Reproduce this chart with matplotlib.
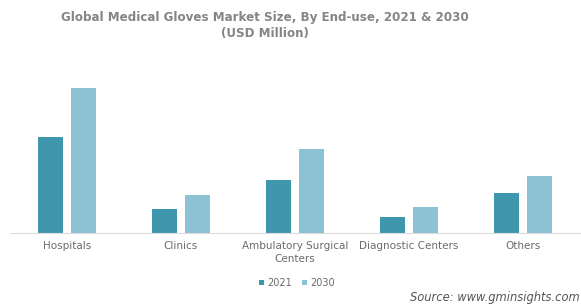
import matplotlib.pyplot as plt
import numpy as np

# ----------------------------- data ------------------------------------

categories = ["Hospitals", "Clinics", "Ambulatory Surgical\nCenters",
              "Diagnostic Centers", "Others"]
years = ["2021", "2030"]
values_2021 = [96, 23.5, 52.5, 16, 39.5]
values_2030 = [145, 37.5, 83.5, 25.5, 57]

COLORS = {"2021": "#3f97ae", "2030": "#8dc1d4"}
TEXT = "#6b6b6b"

# ----------------------------- figure ----------------------------------

fig = plt.figure(figsize=(5.81, 3.06), dpi=100)
ax = fig.add_axes([10 / 581, (306 - 232.5) / 306, 570 / 581, 152 / 306])

x = np.arange(len(categories))
w = 0.22
ax.bar(x - 0.142, values_2021, width=w, color=COLORS["2021"], label="2021")
ax.bar(x + 0.142, values_2030, width=w, color=COLORS["2030"], label="2030")

ax.set_xlim(-0.5, 4.5)
ax.set_ylim(0, 152)
ax.set_yticks([])
for s in ("top", "right", "left"):
    ax.spines[s].set_visible(False)
ax.spines["bottom"].set_color("#dcdcdc")
ax.spines["bottom"].set_linewidth(0.8)

ax.set_xticks(x)
ax.set_xticklabels(categories, fontsize=7.5, color=TEXT, linespacing=1.45)
ax.tick_params(axis="x", length=0, pad=6)

fig.text(265 / 581, 1 - 17 / 306,
         "Global Medical Gloves Market Size, By End-use, 2021 & 2030",
         ha="center", va="center", fontsize=8.6, fontweight="bold", color="#858585")
fig.text(265 / 581, 1 - 34 / 306, "(USD Million)",
         ha="center", va="center", fontsize=8.6, fontweight="bold", color="#858585")

leg = fig.legend(loc="center", bbox_to_anchor=(297 / 581, 1 - 283 / 306),
                 ncol=2, frameon=False, fontsize=7, handlelength=0.5,
                 handleheight=0.5, handletextpad=0.4, columnspacing=1.0)
for t in leg.get_texts():
    t.set_color(TEXT)

fig.text(580 / 581, 1 - 298 / 306, "Source: www.gminsights.com",
         ha="right", va="center", fontsize=8.3, style="italic", color="#555555")

fig.savefig("out.png", dpi=100)
